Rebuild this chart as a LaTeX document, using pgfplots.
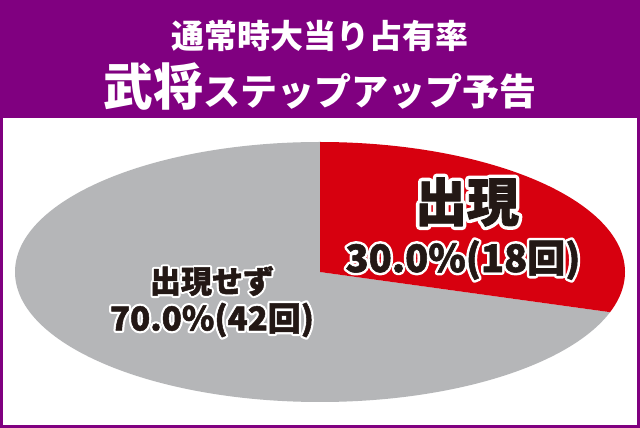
\documentclass[border=0pt]{standalone}
\usepackage{fontspec}
\setmainfont{Noto Sans CJK JP}
\newfontfamily\jpink[BoldFeatures={FakeBold=1.5}]{Noto Sans CJK JP}
\newfontfamily\jpedge[BoldFeatures={FakeBold=15}]{Noto Sans CJK JP}
\usepackage{pgfplots}
\pgfplotsset{compat=1.18}
\usepackage{pgfplotstable}
\usetikzlibrary{calc}

\definecolor{hdrpurple}{RGB}{128,0,128}
\definecolor{piered}{RGB}{215,0,15}
\definecolor{piegray}{RGB}{181,182,184}
\definecolor{inkblack}{RGB}{35,24,21}

% slice counts: 出現 / 出現せず
\pgfplotstableread{
slice count
1 18
2 42
}\pietable

% black label with a white edge: white emboldened copy under the black text
\newcommand{\edgelabel}[3]{%
  \node[text=white, line join=round, font=\jpedge\bfseries\fontsize{#2}{#2}\selectfont] at (#1) {#3};
  \node[text=inkblack, line join=round, font=\jpink\bfseries\fontsize{#2}{#2}\selectfont] at (#1) {#3};
}

\begin{document}
\begin{tikzpicture}[x=1pt,y=1pt]
  \pgfplotstablegetelem{0}{count}\of\pietable \let\hitcount\pgfplotsretval
  \pgfplotstablegetelem{1}{count}\of\pietable \let\misscount\pgfplotsretval
  \pgfmathsetmacro{\hitangle}{360*\hitcount/(\hitcount+\misscount)}

  \useasboundingbox (0,0) rectangle (640,428);
  \fill[hdrpurple] (0,0) rectangle (640,428);
  \fill[white] (3,3) rectangle (637,310);

  \begin{axis}[
    at={(320pt,156pt)}, anchor=center,
    scale only axis, width=610pt, height=260pt,
    hide axis, clip=false,
    xmin=-1, xmax=1, ymin=-1, ymax=1,
  ]
    \addplot[draw=none, mark=none] coordinates {(-1,-1) (1,1)};
    \coordinate (pc) at (axis cs:0,0);
    \coordinate (ptop) at (axis cs:0,1);
    \coordinate (pright) at (axis cs:1,0);
  \end{axis}

  % pie slices from the table values (radii taken from the axis)
  \path let \p1=(pc), \p2=(ptop), \p3=(pright) in
    \pgfextra{\xdef\rx{\x3-\x1}\xdef\ry{\y2-\y1}};
  \fill[piegray] (pc) -- (ptop)
    arc[start angle=90, delta angle=360-\hitangle, x radius=\rx, y radius=\ry] -- cycle;
  \fill[piered] (pc) -- (ptop)
    arc[start angle=90, delta angle=-\hitangle, x radius=\rx, y radius=\ry] -- cycle;

  % header
  \node[text=white, font=\bfseries\fontsize{33}{33}\selectfont] at (320,392) {通常時大当り占有率};
  \node[text=white, anchor=base] at (320,322)
    {\bfseries\fontsize{50}{50}\selectfont 武将\fontsize{37}{37}\selectfont ステップアップ予告};

  % slice labels
  \edgelabel{467,226}{52}{出現}
  \edgelabel{463,168}{38}{30.0\%(18回)}
  \edgelabel{212,147}{31}{出現せず}
  \edgelabel{212,108}{33}{70.0\%(42回)}
\end{tikzpicture}
\end{document}
